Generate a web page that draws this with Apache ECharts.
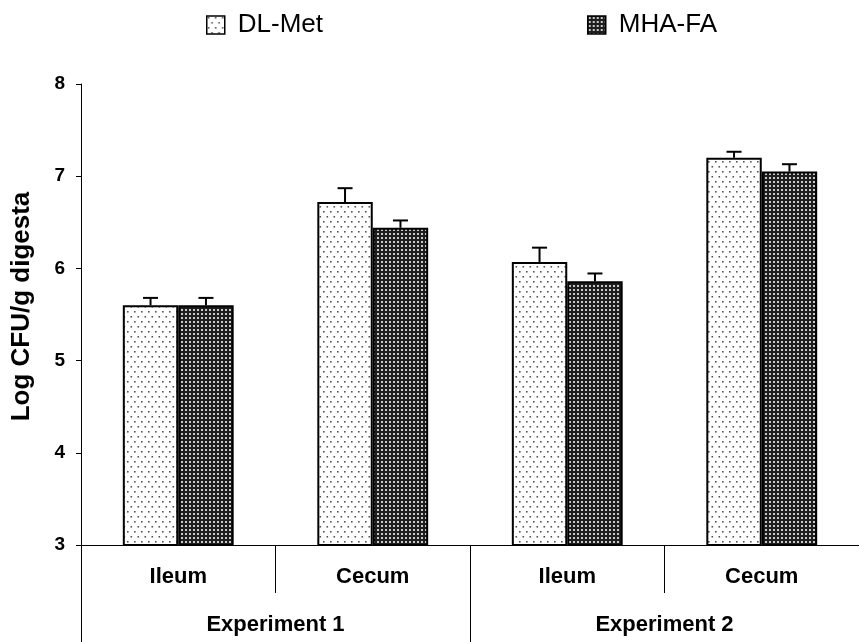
<!DOCTYPE html>
<html>
<head>
<meta charset="utf-8">
<script src="https://cdn.jsdelivr.net/npm/echarts@6/dist/echarts.min.js"></script>
<style>
  html, body { margin: 0; padding: 0; background: #fff; }
  #chart { width: 859px; height: 642px; }
</style>
</head>
<body>
<div id="chart"></div>
<script>
// Bacterial counts (log CFU/g digesta) by intestinal site and experiment
const sites = ['Ileum', 'Cecum', 'Ileum', 'Cecum'];
const experiments = ['Experiment 1', 'Experiment 2'];
const seriesNames = ['DL-Met', 'MHA-FA'];
const dlMet = [5.60, 6.72, 6.07, 7.20];
const dlMetErr = [0.08, 0.15, 0.155, 0.065];
const mhaFa = [5.60, 6.44, 5.86, 7.05];
const mhaFaErr = [0.08, 0.08, 0.085, 0.08];
const yTicks = [3, 4, 5, 6, 7, 8];

const FONT = '"Liberation Sans", Arial, sans-serif';
const CAT_GAP = 0.43;

// Fill patterns: sparse dots for DL-Met, dense light grid on dark for MHA-FA
function sparseDots() {
  const c = document.createElement('canvas');
  c.width = 7; c.height = 10;
  const g = c.getContext('2d');
  g.fillStyle = '#fff'; g.fillRect(0, 0, 7, 10);
  g.fillStyle = '#555';
  g.fillRect(1, 1, 1.6, 1.6);
  g.fillRect(4.5, 6, 1.6, 1.6);
  return c;
}
function denseGrid() {
  const c = document.createElement('canvas');
  c.width = 4; c.height = 4;
  const g = c.getContext('2d');
  g.fillStyle = '#1e1e1e'; g.fillRect(0, 0, 4, 4);
  g.fillStyle = '#c8c8c8';
  g.fillRect(1, 1, 2, 2);
  return c;
}
const fills = [
  { image: sparseDots(), repeat: 'repeat' },
  { image: denseGrid(), repeat: 'repeat' }
];

function errorSeries(seriesIndex, values, errs) {
  return {
    type: 'custom',
    xAxisIndex: 0,
    yAxisIndex: 0,
    z: 5,
    silent: true,
    data: values.map((v, i) => [i, v, errs[i]]),
    renderItem(params, api) {
      const ci = api.value(0), v = api.value(1), e = api.value(2);
      const band = api.size([1, 0])[0];
      const bw = band * (1 - CAT_GAP) / 2;
      const base = api.coord([ci, v]);
      const x = base[0] - band * (1 - CAT_GAP) / 2 + bw * (seriesIndex + 0.5);
      const yTop = api.coord([ci, v + e])[1];
      const half = 7.5;
      const style = { stroke: '#000', lineWidth: 2 };
      return {
        type: 'group',
        children: [
          { type: 'line', shape: { x1: x, y1: base[1], x2: x, y2: yTop }, style },
          { type: 'line', shape: { x1: x - half, y1: yTop, x2: x + half, y2: yTop }, style }
        ]
      };
    }
  };
}

const chart = echarts.init(document.getElementById('chart'), null, { renderer: 'canvas' });

const legendBase = {
  top: 12,
  padding: 0,
  itemWidth: 18,
  itemHeight: 18,
  icon: 'rect',
  selectedMode: false,
  itemStyle: { borderColor: '#000', borderWidth: 1.5 },
  textStyle: { fontFamily: FONT, fontSize: 26, color: '#000', padding: [0, 0, 0, 8] }
};

chart.setOption({
  animation: false,
  backgroundColor: '#fff',
  legend: [
    Object.assign({}, legendBase, { left: 206, data: [seriesNames[0]] }),
    Object.assign({}, legendBase, { left: 587, data: [seriesNames[1]] })
  ],
  grid: { left: 81, right: -6, top: 84, bottom: 97, containLabel: false },
  xAxis: [
    {
      type: 'category',
      data: sites,
      position: 'bottom',
      offset: 0,
      axisLine: { show: true, lineStyle: { color: '#000', width: 1 } },
      axisTick: { show: true, length: 48, lineStyle: { color: '#000', width: 1 } },
      axisLabel: { margin: 21, fontFamily: FONT, fontSize: 22, fontWeight: 'bold', color: '#000' },
      splitLine: { show: false }
    },
    {
      type: 'category',
      data: experiments,
      position: 'bottom',
      offset: 0,
      axisLine: { show: false },
      axisTick: { show: true, length: 97, lineStyle: { color: '#000', width: 1 } },
      axisLabel: { margin: 69, fontFamily: FONT, fontSize: 22, fontWeight: 'bold', color: '#000' },
      splitLine: { show: false }
    }
  ],
  yAxis: {
    type: 'value',
    min: yTicks[0],
    max: yTicks[yTicks.length - 1],
    interval: 1,
    name: 'Log CFU/g digesta',
    nameLocation: 'middle',
    nameGap: 46,
    nameRotate: 90,
    nameTextStyle: { fontFamily: FONT, fontSize: 26, fontWeight: 'bold', color: '#000', padding: [0, 0, 0, 16] },
    axisLine: { show: true, lineStyle: { color: '#000', width: 1 } },
    axisTick: { show: true, length: 5, lineStyle: { color: '#000', width: 1 } },
    axisLabel: { margin: 16, fontFamily: FONT, fontSize: 19, fontWeight: 'bold', color: '#000' },
    splitLine: { show: false }
  },
  series: [
    {
      name: seriesNames[0],
      type: 'bar',
      data: dlMet,
      barGap: '0%',
      barCategoryGap: (CAT_GAP * 100) + '%',
      itemStyle: { color: fills[0], borderColor: '#000', borderWidth: 2 }
    },
    {
      name: seriesNames[1],
      type: 'bar',
      data: mhaFa,
      barGap: '0%',
      barCategoryGap: (CAT_GAP * 100) + '%',
      itemStyle: { color: fills[1], borderColor: '#000', borderWidth: 2 }
    },
    errorSeries(0, dlMet, dlMetErr),
    errorSeries(1, mhaFa, mhaFaErr)
  ]
});
</script>
</body>
</html>
